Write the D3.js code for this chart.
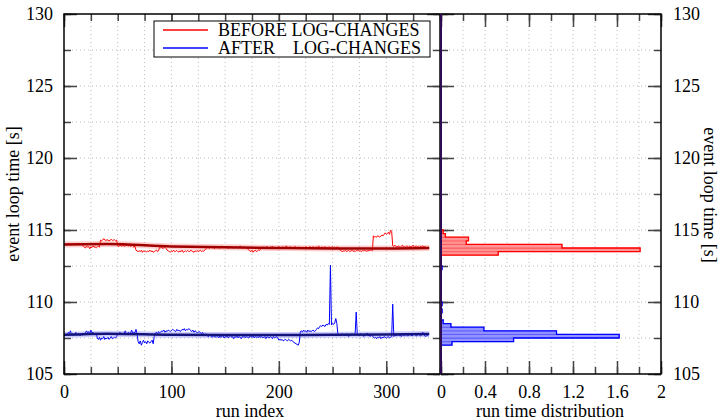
<!DOCTYPE html>
<html>
<head>
<meta charset="utf-8">
<script src="https://cdn.jsdelivr.net/npm/d3@7"></script>
<style>
  body { margin: 0; background: #fff; }
  text { font-family: "Liberation Serif", "DejaVu Serif", serif; font-size: 18px; fill: #000; }
</style>
</head>
<body>
<div id="chart"></div>
<script>
// event loop time per run, before the log changes
const beforeTimes = [
  114.0, 114.05, 113.95, 114.0, 114.1, 113.98, 114.02, 113.95, 114.05, 114.0,
  114.08, 113.97, 114.0, 114.1, 114.02, 113.96, 114.04, 114.0, 113.85, 113.8,
  113.75, 113.9, 113.8, 113.85, 113.7, 113.82, 113.78, 113.9, 113.8, 113.85,
  113.75, 113.82, 113.9, 113.8, 114.3, 114.25, 114.3, 114.4, 114.3, 114.28,
  114.32, 114.3, 114.25, 114.3, 114.35, 114.28, 114.3, 114.32, 114.25, 114.3,
  113.9, 113.85, 113.95, 113.9, 113.88, 113.95, 113.85, 113.92, 113.9, 114.0,
  113.88, 113.92, 113.85, 113.9, 113.95, 113.8, 113.9, 113.6, 113.55, 113.5,
  113.55, 113.5, 113.6, 113.45, 113.55, 113.5, 113.52, 113.48, 113.55, 113.5,
  113.6, 113.5, 113.55, 113.45, 113.5, 113.55, 113.62, 113.5, 113.55, 113.8,
  113.75, 113.85, 113.7, 113.78, 113.8, 113.72, 113.6, 113.55, 113.5, 113.45,
  113.55, 113.5, 113.6, 113.5, 113.52, 113.58, 113.5, 113.48, 113.55, 113.5,
  113.6, 113.45, 113.5, 113.55, 113.5, 113.58, 113.52, 113.5, 113.6, 113.55,
  113.5, 113.45, 113.55, 113.5, 113.58, 113.48, 113.55, 113.6, 113.5, 113.55,
  113.52, 113.6, 113.7, 113.75, 113.8, 113.72, 113.78, 113.85, 113.75, 113.8,
  113.7, 113.78, 113.82, 113.75, 113.8, 113.72, 113.78, 113.9, 113.75, 113.8,
  113.75, 113.82, 113.78, 113.7, 113.8, 113.75, 113.85, 113.78, 113.72, 113.8,
  113.78, 113.82, 113.75, 113.8, 113.9, 113.78, 113.75, 113.82, 113.8, 113.76,
  113.8, 113.7, 113.6, 113.55, 113.5, 113.6, 113.45, 113.55, 113.6, 113.5,
  113.55, 113.62, 113.58, 113.7, 113.8, 113.75, 113.82, 113.78, 113.8, 113.85,
  113.78, 113.75, 113.82, 113.8, 113.88, 113.75, 113.8, 113.78, 113.72, 113.8,
  113.85, 113.78, 113.75, 113.8, 113.82, 113.76, 113.8, 113.9, 113.78, 113.75,
  113.8, 113.82, 113.75, 113.8, 113.78, 113.85, 113.8, 113.75, 113.82, 113.78,
  113.8, 113.75, 113.72, 113.8, 113.78, 113.82, 113.8, 113.75, 113.8, 113.85,
  113.78, 113.8, 113.85, 113.75, 113.8, 113.82, 113.78, 113.9, 113.8, 113.75,
  113.82, 113.8, 113.78, 113.85, 113.8, 113.75, 113.8, 113.82, 113.78, 113.8,
  113.85, 113.78, 113.8, 113.75, 113.82, 113.8, 113.78, 113.6, 113.55, 113.5,
  113.55, 113.52, 113.6, 113.5, 113.55, 113.58, 113.5, 113.55, 113.6, 113.52,
  113.55, 113.5, 113.58, 113.55, 113.6, 113.52, 113.55, 113.5, 113.58, 113.55,
  113.6, 113.55, 113.52, 113.58, 113.55, 113.6, 113.62, 113.55, 114.6, 114.5,
  114.55, 114.5, 114.6, 114.55, 114.5, 114.58, 114.65, 114.6, 114.7, 114.8,
  114.7, 114.75, 114.85, 114.7, 115.0, 114.9, 113.9, 113.85, 113.95, 113.85,
  113.8, 113.9, 113.85, 113.8, 113.88, 113.95, 113.82, 113.85, 113.8, 113.9,
  113.85, 113.8, 113.88, 113.82, 113.85, 113.95, 113.8, 113.85, 113.9, 113.82,
  113.85, 113.8, 113.88, 113.85, 113.9, 113.82, 113.85, 113.8, 113.75, 113.85
];

// event loop time per run, after the log changes
const afterTimes = [
  107.7, 107.65, 107.75, 107.7, 107.9, 107.8, 108.0, 107.75, 107.8, 107.7,
  107.75, 107.9, 107.7, 107.8, 107.75, 107.65, 107.8, 107.7, 107.85, 107.75,
  107.9, 108.0, 107.85, 107.95, 107.8, 108.05, 107.85, 107.9, 107.8, 107.75,
  107.85, 107.5, 107.4, 107.55, 107.35, 107.5, 107.45, 107.6, 107.4, 107.5,
  107.45, 107.55, 107.4, 107.5, 107.6, 107.45, 107.5, 107.55, 107.5, 107.6,
  107.8, 107.75, 107.9, 107.8, 107.75, 107.85, 107.8, 108.0, 107.75, 107.8,
  107.9, 107.8, 107.85, 108.05, 107.8, 107.9, 107.85, 108.1, 107.8, 107.25,
  107.1, 107.3, 107.0, 107.2, 107.35, 107.15, 107.25, 107.1, 107.3, 107.2,
  107.15, 107.25, 107.35, 107.1, 107.6, 107.85, 107.9, 107.8, 107.95, 107.85,
  107.9, 108.0, 107.95, 108.05, 107.9, 108.0, 107.95, 108.05, 108.0, 107.95,
  108.0, 108.1, 108.05, 108.0, 107.95, 108.1, 108.0, 108.05, 107.95, 108.0,
  108.1, 108.05, 108.15, 108.0, 108.1, 108.05, 108.15, 108.1, 108.0, 107.95,
  108.05, 107.9, 108.0, 107.95, 107.85, 107.9, 107.95, 107.85, 107.8, 107.9,
  107.75, 107.7, 107.8, 107.7, 107.6, 107.65, 107.7, 107.6, 107.55, 107.65,
  107.6, 107.55, 107.7, 107.6, 107.5, 107.65, 107.55, 107.6, 107.7, 107.5,
  107.6, 107.55, 107.65, 107.5, 107.6, 107.7, 107.55, 107.6, 107.45, 107.6,
  107.55, 107.65, 107.5, 107.6, 107.55, 107.45, 107.6, 107.55, 107.65, 107.5,
  107.6, 107.55, 107.5, 107.65, 107.6, 107.55, 107.7, 107.5, 107.6, 107.55,
  107.6, 107.5, 107.65, 107.55, 107.6, 107.5, 107.55, 107.6, 107.45, 107.6,
  107.55, 107.5, 107.6, 107.55, 107.45, 107.6, 107.5, 107.55, 107.6, 107.5,
  107.35, 107.4, 107.35, 107.4, 107.3, 107.35, 107.4, 107.35, 107.3, 107.4,
  107.35, 107.3, 107.35, 107.25, 107.2, 107.15, 107.1, 107.05, 107.0, 107.2,
  107.95, 108.0, 107.9, 108.05, 107.95, 108.0, 107.9, 108.05, 107.95, 108.0,
  107.95, 108.0, 108.05, 107.95, 108.0, 108.1, 108.2, 108.15, 108.3, 108.35,
  108.3, 108.4, 108.35, 108.3, 108.45, 108.4, 108.5, 108.45, 112.55, 108.4,
  108.5, 108.45, 108.55, 108.85, 108.5, 107.7, 107.75, 107.65, 107.7, 107.8,
  107.7, 107.75, 107.65, 107.8, 107.7, 107.6, 107.75, 107.7, 107.8, 107.7,
  107.75, 107.8, 109.3, 107.75, 107.7, 107.65, 107.8, 107.7, 107.75, 107.6,
  107.7, 107.75, 107.85, 107.65, 107.7, 107.6, 107.75, 107.7, 107.55, 107.5,
  107.55, 107.45, 107.55, 107.5, 107.6, 107.45, 107.55, 107.5, 107.6, 107.55,
  107.5, 107.55, 107.6, 107.5, 107.55, 107.6, 109.85, 107.6, 107.7, 107.65,
  107.7, 107.75, 107.65, 107.7, 107.6, 107.75, 107.7, 107.65, 107.75, 107.7,
  107.65, 107.7, 107.75, 107.7, 107.65, 107.7, 107.8, 107.7, 107.65, 107.7,
  107.75, 107.7, 107.65, 107.7, 107.9, 107.7, 107.65, 107.6, 107.7, 107.65
];

// smoothed trend, sampled at a few run indices
const trendIndex  = [0, 40, 100, 150, 200, 250, 300, 340];
const beforeTrend = [114.0, 114.02, 113.86, 113.8, 113.75, 113.72, 113.72, 113.75];
const afterTrend  = [107.72, 107.8, 107.72, 107.7, 107.7, 107.72, 107.75, 107.78];

// run time distribution (density per 0.25 s bin)
const beforeBinLow  = [113.25, 113.5, 113.75, 114.0, 114.25, 114.5, 114.75];
const beforeDensity = [0.52, 1.81, 1.10, 0.23, 0.25, 0.04, 0.02];
const afterBinLow   = [107.0, 107.25, 107.5, 107.75, 108.0, 108.25, 108.5, 109.25, 109.75, 112.25];
const afterDensity  = [0.10, 0.66, 1.62, 1.05, 0.39, 0.09, 0.02, 0.01, 0.01, 0.01];
const binWidth = 0.25;

const legendLabels = ["BEFORE LOG-CHANGES", "AFTER    LOG-CHANGES"];

const W = 722, H = 420;
const plotTop = 14, plotBottom = 374;
const leftX0 = 64, leftX1 = 440, rightX0 = 441, rightX1 = 661;
const serif = "'Liberation Serif', 'DejaVu Serif', serif";

const svg = d3.select("#chart").append("svg")
  .attr("width", W).attr("height", H);

const y = d3.scaleLinear().domain([105, 130]).range([plotBottom, plotTop]);
const xRun = d3.scaleLinear().domain([0, 350]).range([leftX0, leftX1]);
const xDist = d3.scaleLinear().domain([0, 2]).range([rightX0, rightX1]);

const yMajor = d3.range(105, 130.1, 5);
const yMinor = d3.range(105, 130.1, 2.5);
const runMajor = [0, 100, 200, 300];
const runMinor = d3.range(0, 351, 25);
const distMajor = [0, 0.4, 0.8, 1.2, 1.6, 2];
const distMinor = d3.range(0, 2.01, 0.2);

// dotted grid
function grid(xs, ys, x0, x1) {
  const g = svg.append("g");
  g.selectAll(".gv").data(xs).enter().append("line")
    .attr("x1", d => d).attr("x2", d => d).attr("y1", plotTop).attr("y2", plotBottom);
  g.selectAll(".gh").data(ys).enter().append("line")
    .attr("x1", x0).attr("x2", x1).attr("y1", d => y(d)).attr("y2", d => y(d));
  g.selectAll("line")
    .attr("stroke", "#bdbdbd").attr("stroke-width", 1).attr("stroke-dasharray", "1,3");
}
const yInner = yMinor.filter(d => d > 105 && d < 130);
grid(runMinor.filter(d => d > 0 && d < 350).map(xRun), yInner, leftX0, leftX1);
grid(distMinor.filter(d => d > 0.1 && d < 1.95).map(xDist), yInner, rightX0, rightX1);

// ticks (inward) and optional labels
function ticks(axis, tx, ty, vals, size, pad) {
  const g = svg.append("g")
    .attr("transform", "translate(" + tx + "," + ty + ")")
    .call(axis.tickValues(vals).tickSize(-size).tickSizeOuter(0)
      .tickPadding(pad || 0)
      .tickFormat(pad ? d3.format("") : ""));
  g.attr("font-family", serif).attr("font-size", 18);
  g.select(".domain").remove();
  g.selectAll(".tick line").attr("stroke", "#444").attr("stroke-width", 1.5);
  g.selectAll("text").attr("fill", "#000");
  return g;
}
// left panel
ticks(d3.axisLeft(y), leftX0, 0, yMinor, 7);
ticks(d3.axisLeft(y), leftX0, 0, yMajor, 13, 11);
ticks(d3.axisRight(y), leftX1, 0, yMinor, 7);
ticks(d3.axisRight(y), leftX1, 0, yMajor, 13);
ticks(d3.axisBottom(xRun), 0, plotBottom, runMinor, 7);
ticks(d3.axisBottom(xRun), 0, plotBottom, runMajor, 13, 11);
ticks(d3.axisTop(xRun), 0, plotTop, runMinor, 7);
ticks(d3.axisTop(xRun), 0, plotTop, runMajor, 13);
// right panel
ticks(d3.axisLeft(y), rightX0, 0, yMinor, 7);
ticks(d3.axisLeft(y), rightX0, 0, yMajor, 13);
ticks(d3.axisRight(y), rightX1, 0, yMinor, 7);
ticks(d3.axisRight(y), rightX1, 0, yMajor, 13, 12);
ticks(d3.axisBottom(xDist), 0, plotBottom, distMinor, 7);
ticks(d3.axisBottom(xDist), 0, plotBottom, distMajor, 13, 11);
ticks(d3.axisTop(xDist), 0, plotTop, distMinor, 7);
ticks(d3.axisTop(xDist), 0, plotTop, distMajor, 13);

// run series
const runLine = d3.line().x((d, i) => xRun(i)).y(d => y(d));
svg.append("path").datum(beforeTimes).attr("d", runLine)
  .attr("fill", "none").attr("stroke", "#ff0000").attr("stroke-width", 1);
svg.append("path").datum(afterTimes).attr("d", runLine)
  .attr("fill", "none").attr("stroke", "#0000ff").attr("stroke-width", 1);

// trend lines with a pale band
const trendLine = d3.line().curve(d3.curveMonotoneX)
  .x((d, i) => xRun(trendIndex[i])).y(d => y(d));
[[beforeTrend, "#ff6060", "#a00000"], [afterTrend, "#6060ff", "#14147a"]].forEach(t => {
  svg.append("path").datum(t[0]).attr("d", trendLine)
    .attr("fill", "none").attr("stroke", t[1]).attr("stroke-opacity", 0.3).attr("stroke-width", 6);
  svg.append("path").datum(t[0]).attr("d", trendLine)
    .attr("fill", "none").attr("stroke", t[2]).attr("stroke-width", 2.5);
});

// distributions: filled bins, bin edges drawn faintly, step outline on top
function hist(lows, dens, fill, color) {
  const bins = lows.map((d, i) => ({lo: d, v: dens[i]}));
  const g = svg.append("g");
  g.selectAll("rect").data(bins).enter().append("rect")
    .attr("x", xDist(0))
    .attr("y", d => y(d.lo + binWidth))
    .attr("width", d => xDist(d.v) - xDist(0))
    .attr("height", d => y(d.lo) - y(d.lo + binWidth))
    .attr("fill", fill)
    .attr("stroke", color).attr("stroke-opacity", 0.35).attr("stroke-width", 1);
  // outline around each contiguous run of bins
  const runs = [];
  bins.forEach((b, i) => {
    if (i > 0 && Math.abs(bins[i - 1].lo + binWidth - b.lo) < 1e-6) runs[runs.length - 1].push(b);
    else runs.push([b]);
  });
  const step = d3.line().x(p => xDist(p[0])).y(p => y(p[1]));
  runs.forEach(r => {
    const pts = [[0, r[0].lo]];
    r.forEach(b => { pts.push([b.v, b.lo]); pts.push([b.v, b.lo + binWidth]); });
    pts.push([0, r[r.length - 1].lo + binWidth]);
    g.append("path").datum(pts).attr("d", step)
      .attr("fill", "none").attr("stroke", color).attr("stroke-width", 1.3);
  });
}
hist(beforeBinLow, beforeDensity, "#ff9494", "#ff0000");
hist(afterBinLow, afterDensity, "#9494ff", "#0000ff");

// frames
svg.append("rect").attr("x", leftX0).attr("y", plotTop)
  .attr("width", leftX1 - leftX0).attr("height", plotBottom - plotTop)
  .attr("fill", "none").attr("stroke", "#000").attr("stroke-width", 1.5);
svg.append("rect").attr("x", rightX0).attr("y", plotTop)
  .attr("width", rightX1 - rightX0).attr("height", plotBottom - plotTop)
  .attr("fill", "none").attr("stroke", "#000").attr("stroke-width", 1.5);
svg.append("line").attr("x1", xDist(0)).attr("x2", xDist(0)).attr("y1", plotTop).attr("y2", plotBottom)
  .attr("stroke", "#2e0a55").attr("stroke-width", 2);

// legend
const leg = svg.append("g");
leg.append("rect").attr("x", 154).attr("y", 21).attr("width", 276).attr("height", 36)
  .attr("fill", "#fff").attr("stroke", "#000").attr("stroke-width", 1);
const legItems = leg.selectAll(".item")
  .data([{c: "#ff0000", label: legendLabels[0]}, {c: "#0000ff", label: legendLabels[1]}])
  .enter().append("g")
  .attr("transform", (d, i) => "translate(163," + (30 + i * 18) + ")");
legItems.append("line").attr("x1", 0).attr("x2", 45)
  .attr("stroke", d => d.c).attr("stroke-width", 1.5);
legItems.append("text").attr("x", 55).attr("dy", ".35em")
  .style("white-space", "pre")
  .text(d => d.label);

// axis titles
svg.append("text").attr("x", 250).attr("y", 417).attr("text-anchor", "middle").text("run index");
svg.append("text").attr("x", 550).attr("y", 417).attr("text-anchor", "middle").text("run time distribution");
svg.append("text").attr("transform", "translate(19,194) rotate(-90)")
  .attr("text-anchor", "middle").text("event loop time [s]");
svg.append("text").attr("transform", "translate(704,195) rotate(90)")
  .attr("text-anchor", "middle").text("event loop time [s]");
</script>
</body>
</html>
